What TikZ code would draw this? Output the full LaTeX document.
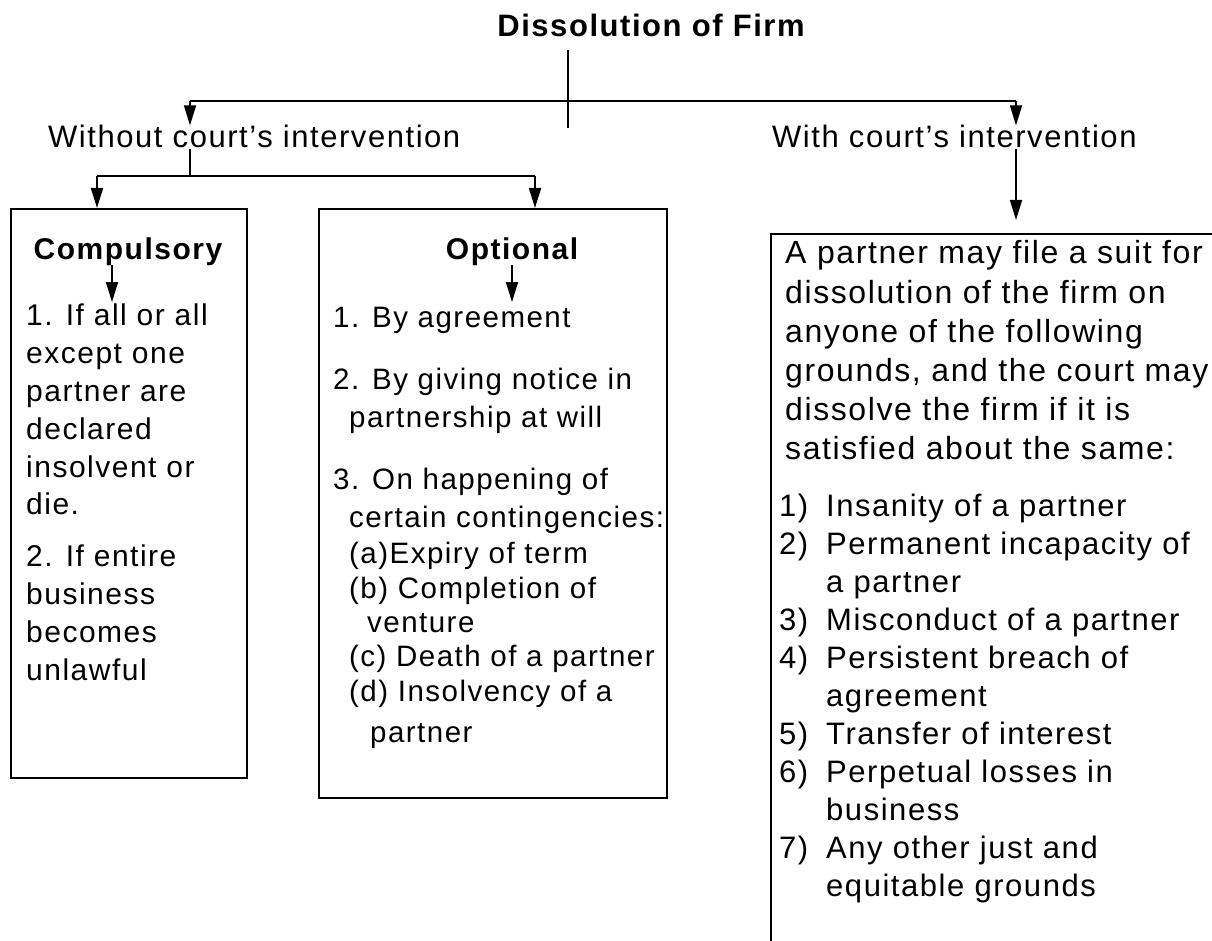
\documentclass[tikz,border=0pt]{standalone}
\usepackage{fontspec}
\setmainfont{Liberation Sans}[LetterSpace=5]
\usetikzlibrary{arrows.meta}
\begin{document}
\begin{tikzpicture}[x=1pt,y=-1pt,
  txt/.style={anchor=base west, inner sep=0pt, font=\fontsize{30}{38}\selectfont},
  otxt/.style={txt, font=\fontsize{29.5}{38}\selectfont},
  rtxt/.style={txt, font=\fontsize{31}{38}\selectfont},
  ptxt/.style={txt, font=\fontsize{32}{38}\selectfont},
  htxt/.style={txt, font=\fontsize{31}{38}\selectfont},
  hd/.style={anchor=base, inner sep=0pt, font=\fontsize{30}{38}\selectfont\bfseries},
  box/.style={draw, line width=1.7pt, inner sep=0pt, anchor=north west},
  con/.style={line width=1.7pt},
  arr/.style={line width=1.7pt, -{Triangle[length=20pt,width=12pt]}}]
\useasboundingbox (0,0) rectangle (1212,941);

% headings
\node[hd, font=\fontsize{31}{38}\selectfont\bfseries] (title) at (651,37) {Dissolution of Firm};
\node[htxt] (wo) at (48,148) {Without court’s intervention};
\node[htxt] (wi) at (772,148) {With court’s intervention};

% boxes
\node[box, minimum width=236pt, minimum height=569pt] (comp) at (10,208) {};
\node[box, minimum width=348pt, minimum height=589pt] (opt) at (318,208) {};
\node[box, minimum width=480pt, minimum height=760pt] (court) at (770,233) {};

% top connectors
\coordinate (s1) at (568,50);
\coordinate (s2) at (568,128);
\coordinate (jl) at (190,101);
\coordinate (jr) at (1016,101);
\draw[con] (s1) -- (s2);
\draw[con] (jl) -- (jr);
\draw[arr] (jl) -- (jl |- wo.north);
\draw[arr] (jr) -- (jr |- wi.north);

% without court's intervention
\coordinate (wj) at (190,176);
\coordinate (cl) at (97,176);
\coordinate (cr) at (535,176);
\draw[con] (wj |- wo.south) -- (wj);
\draw[con] (cl) -- (cr);
\draw[arr] (cl) -- (cl |- comp.north);
\draw[arr] (cr) -- (cr |- opt.north);

% with court's intervention
\coordinate (wt) at (1016,220);
\draw[arr] (jr |- wi.south) -- (wt);

% compulsory
\node[hd] (comph) at (128,259) {Compulsory};
\coordinate (ca) at (112,265);
\coordinate (cb) at (112,302);
\draw[arr] (ca) -- (cb);
\node[txt] (c1) at (26,325) {1. If all or all};
\node[txt] (c2) at (26,363) {except one};
\node[txt] (c3) at (26,401) {partner are};
\node[txt] (c4) at (26,439) {declared};
\node[txt] (c5) at (26,477) {insolvent or};
\node[txt] (c6) at (26,514) {die.};
\node[txt] (c7) at (26,566) {2. If entire};
\node[txt] (c8) at (26,604) {business};
\node[txt] (c9) at (26,642) {becomes};
\node[txt] (c10) at (26,680) {unlawful};

% optional
\node[hd] (opth) at (512,259) {Optional};
\coordinate (oa) at (512,265);
\coordinate (ob) at (512,302);
\draw[arr] (oa) -- (ob);
\node[otxt] (o1) at (333,327) {1. By agreement};
\node[otxt] (o2) at (333,389) {2. By giving notice in};
\node[otxt] (o3) at (349,427) {partnership at will};
\node[otxt] (o4) at (333,489) {3. On happening of};
\node[otxt] (o5) at (349,527) {certain contingencies:};
\node[otxt] (o6) at (349,563) {(a)Expiry of term};
\node[otxt] (o7) at (349,598) {(b) Completion of};
\node[otxt] (o8) at (367,632) {venture};
\node[otxt] (o9) at (349,666) {(c) Death of a partner};
\node[otxt] (o10) at (349,701) {(d) Insolvency of a};
\node[otxt] (o11) at (370,742) {partner};

% court
\node[ptxt] (r1) at (785,264) {A partner may file a suit for};
\node[ptxt] (r2) at (785,303) {dissolution of the firm on};
\node[ptxt] (r3) at (785,342) {anyone of the following};
\node[ptxt] (r4) at (785,381) {grounds, and the court may};
\node[ptxt] (r5) at (785,420) {dissolve the firm if it is};
\node[ptxt] (r6) at (785,459) {satisfied about the same:};
\node[rtxt] (n1) at (779,516) {1)}; \node[rtxt] (t1) at (826,516) {Insanity of a partner};
\node[rtxt] (n2) at (779,554) {2)}; \node[rtxt] (t2) at (826,554) {Permanent incapacity of};
\node[rtxt] (t2b) at (826,592) {a partner};
\node[rtxt] (n3) at (779,630) {3)}; \node[rtxt] (t3) at (826,630) {Misconduct of a partner};
\node[rtxt] (n4) at (779,668) {4)}; \node[rtxt] (t4) at (826,668) {Persistent breach of};
\node[rtxt] (t4b) at (826,706) {agreement};
\node[rtxt] (n5) at (779,744) {5)}; \node[rtxt] (t5) at (826,744) {Transfer of interest};
\node[rtxt] (n6) at (779,782) {6)}; \node[rtxt] (t6) at (826,782) {Perpetual losses in};
\node[rtxt] (t6b) at (826,820) {business};
\node[rtxt] (n7) at (779,858) {7)}; \node[rtxt] (t7) at (826,858) {Any other just and};
\node[rtxt] (t7b) at (826,896) {equitable grounds};
\end{tikzpicture}
\end{document}
